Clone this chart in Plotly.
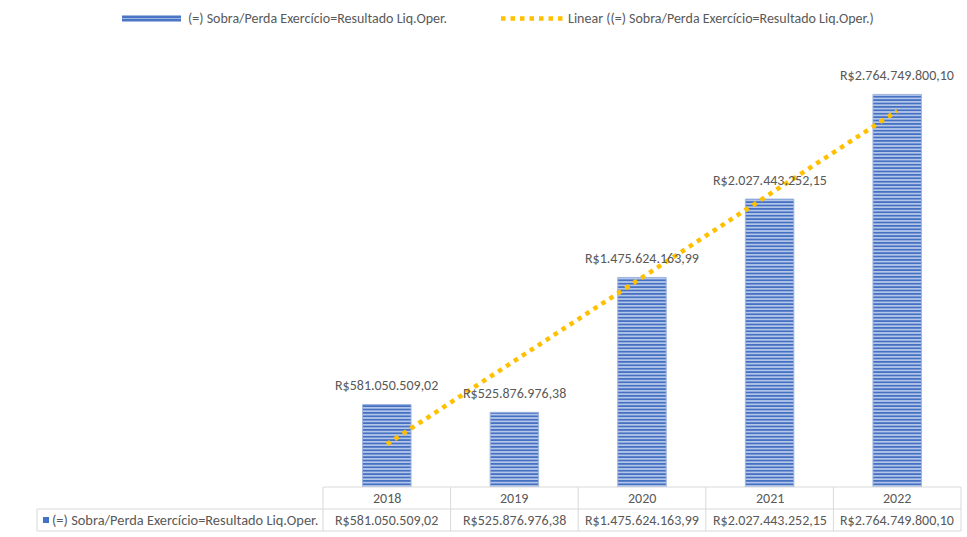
import numpy as np
import plotly.graph_objects as go

# ---- data ---------------------------------------------------------------
years = ["2018", "2019", "2020", "2021", "2022"]
resultado = [581050509.02, 525876976.38, 1475624163.99, 2027443252.15, 2764749800.10]
series_name = "(=) Sobra/Perda Exercício=Resultado Liq.Oper."
trend_name = "Linear ((=) Sobra/Perda Exercício=Resultado Liq.Oper.)"


def brl(v):
    s = f"{v:,.2f}"
    return "R$" + s.replace(",", "X").replace(".", ",").replace("X", ".")


# linear trend fitted over category index 1..n
idx = np.arange(1, len(resultado) + 1)
slope, intercept = np.polyfit(idx, resultado, 1)
trend = slope * idx + intercept

FONT = "Carlito, Lato, sans-serif"
GRAY = "#595959"
BORDER = "#D9D9D9"
BLUE = "#4472C4"
GOLD = "#FFC000"
FS = 14

W, H = 967, 537
L, R, T, B = 323, 6, 61, 50
PW, PH = W - L - R, H - T - B


def px_x(x):
    return (x - L) / PW


def px_y(y):
    return (H - B - y) / PH


fig = go.Figure()

fig.add_trace(go.Bar(
    x=years, y=resultado, width=0.38, name=series_name,
    marker=dict(
        color=BLUE,
        line=dict(color="#9DB5E0", width=1),
        pattern=dict(shape="-", size=3.4, solidity=0.55,
                     fgcolor="#4671C2", bgcolor="#BFD0EE", fillmode="replace"),
    ),
    showlegend=False,
))

fig.add_trace(go.Scatter(
    x=years, y=trend, mode="lines", name=trend_name,
    line=dict(color=GOLD, width=4.5, dash="4.5px,5px"),
    showlegend=False,
))

annotations = []
# value labels above each bar (x given as category index)
for i, v in enumerate(resultado):
    annotations.append(dict(
        x=i, y=v, xref="x", yref="y", text=brl(v), showarrow=False,
        yanchor="middle", xanchor="center", yshift=18.5,
        font=dict(family=FONT, size=FS, color=GRAY),
    ))

# data table under the plot
row1 = px_y(509)
row2 = px_y(531)
left = px_x(37)
shapes = []
line_style = dict(color=BORDER, width=1)
shapes.append(dict(type="line", xref="paper", yref="paper", x0=0, x1=1, y0=0, y1=0, line=line_style))
shapes.append(dict(type="line", xref="paper", yref="paper", x0=left, x1=1, y0=row1, y1=row1, line=line_style))
shapes.append(dict(type="line", xref="paper", yref="paper", x0=left, x1=1, y0=row2, y1=row2, line=line_style))
shapes.append(dict(type="line", xref="paper", yref="paper", x0=left, x1=left, y0=row1, y1=row2, line=line_style))
n = len(years)
for i in range(n + 1):
    shapes.append(dict(type="line", xref="paper", yref="paper", x0=i / n, x1=i / n,
                       y0=0, y1=row2, line=line_style))

for i, (yr, v) in enumerate(zip(years, resultado)):
    cx = (i + 0.5) / n
    annotations.append(dict(x=cx, y=row1 / 2, xref="paper", yref="paper", text=yr,
                            showarrow=False, xanchor="center", yanchor="middle",
                            font=dict(family=FONT, size=FS, color=GRAY)))
    annotations.append(dict(x=cx, y=(row1 + row2) / 2, xref="paper", yref="paper", text=brl(v),
                            showarrow=False, xanchor="center", yanchor="middle",
                            font=dict(family=FONT, size=FS, color=GRAY)))

# series key inside the table label cell
shapes.append(dict(type="rect", xref="paper", yref="paper",
                   x0=px_x(43), x1=px_x(49), y0=px_y(517), y1=px_y(523),
                   fillcolor=BLUE, line=dict(width=0)))
annotations.append(dict(x=px_x(50), y=(row1 + row2) / 2, xref="paper", yref="paper",
                        text=series_name, showarrow=False, xanchor="left", yanchor="middle",
                        font=dict(family=FONT, size=14.4, color=GRAY)))

# legend row at the top
ly = px_y(18.5)
shapes.append(dict(type="rect", xref="paper", yref="paper",
                   x0=px_x(122), x1=px_x(181), y0=px_y(21.5), y1=px_y(15.5),
                   fillcolor="#4A74C4", line=dict(width=0)))
shapes.append(dict(type="line", xref="paper", yref="paper",
                   x0=px_x(122), x1=px_x(181), y0=ly, y1=ly,
                   line=dict(color="#9DB5E0", width=1)))
annotations.append(dict(x=px_x(186), y=ly, xref="paper", yref="paper", text=series_name,
                        showarrow=False, xanchor="left", yanchor="middle",
                        font=dict(family=FONT, size=FS, color=GRAY)))
shapes.append(dict(type="line", xref="paper", yref="paper",
                   x0=px_x(501), x1=px_x(563), y0=ly, y1=ly,
                   line=dict(color=GOLD, width=4.5, dash="4.5px,5px")))
annotations.append(dict(x=px_x(566), y=ly, xref="paper", yref="paper", text=trend_name,
                        showarrow=False, xanchor="left", yanchor="middle",
                        font=dict(family=FONT, size=FS, color=GRAY)))

fig.update_layout(
    width=W, height=H,
    margin=dict(l=L, r=R, t=T, b=B),
    paper_bgcolor="white", plot_bgcolor="white",
    font=dict(family=FONT, color=GRAY),
    xaxis=dict(type="category", range=[-0.5, n - 0.5], showticklabels=False,
               showgrid=False, zeroline=False, showline=False, ticks=""),
    yaxis=dict(range=[0, 3e9], visible=False, showgrid=False, zeroline=False),
    shapes=shapes,
    annotations=annotations,
    showlegend=False,
    bargap=0.6,
)

fig.write_html("out.html")
